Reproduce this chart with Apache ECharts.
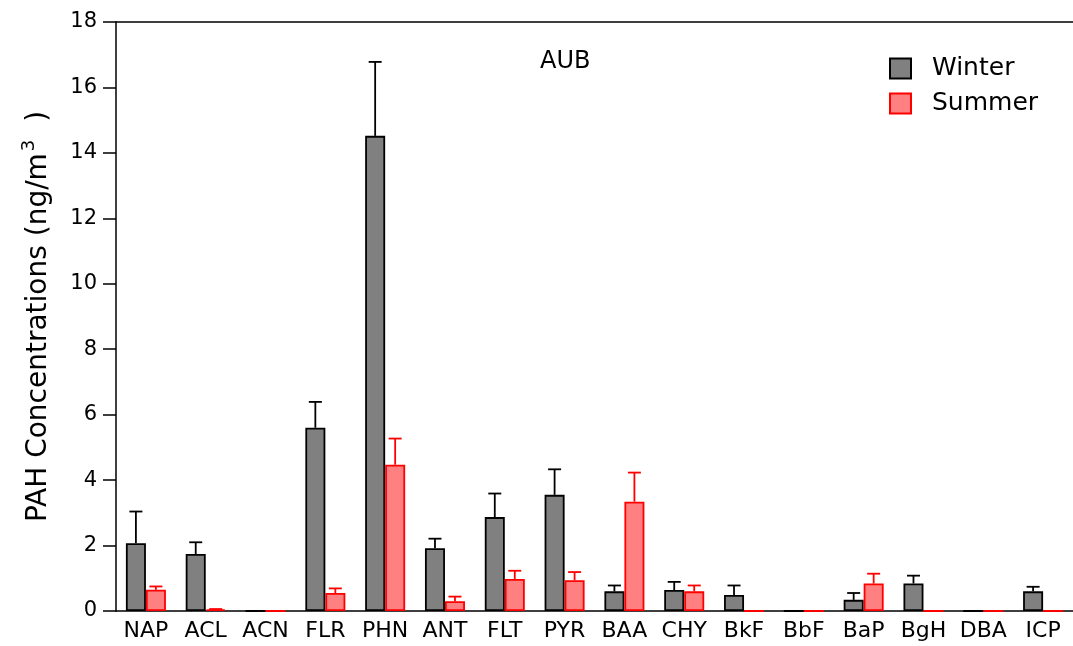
<!DOCTYPE html>
<html>
<head>
<meta charset="utf-8">
<script src="https://cdn.jsdelivr.net/npm/echarts@6/dist/echarts.min.js"></script>
<style>
html,body{margin:0;padding:0;background:#fff;}
#chart{width:1073px;height:646px;}
</style>
</head>
<body>
<div id="chart"></div>
<script>
var categories = ['NAP','ACL','ACN','FLR','PHN','ANT','FLT','PYR','BAA','CHY','BkF','BbF','BaP','BgH','DBA','ICP'];
var winter    = [2.07, 1.74, 0, 5.60, 14.52, 1.92, 2.87, 3.55, 0.60, 0.64, 0.49, 0, 0.34, 0.84, 0, 0.60];
var winterErr = [0.97, 0.36, 0, 0.79, 2.26, 0.29, 0.72, 0.78, 0.18, 0.25, 0.29, 0, 0.21, 0.24, 0, 0.14];
var summer    = [0.65, 0.05, 0, 0.55, 4.47, 0.30, 0.98, 0.94, 3.34, 0.60, 0, 0, 0.84, 0, 0, 0];
var summerErr = [0.10, 0.01, 0, 0.14, 0.80, 0.14, 0.25, 0.25, 0.89, 0.18, 0, 0, 0.30, 0, 0, 0];
var yTicks = [0, 2, 4, 6, 8, 10, 12, 14, 16, 18];

var FONT = 'DejaVu Sans';
var BAR_W = 20;

function errSeries(name, values, errs, offset, color) {
  var data = values.map(function (v, i) { return [i, v, v + errs[i]]; });
  return {
    name: name,
    type: 'custom',
    z: 5,
    silent: true,
    data: data,
    renderItem: function (params, api) {
      var idx = api.value(0), lo = api.value(1), hi = api.value(2);
      if (hi - lo <= 0) return null;
      var p0 = api.coord([idx, lo]);
      var p1 = api.coord([idx, hi]);
      var x = p0[0] + offset;
      var half = 6.5;
      return {
        type: 'group',
        children: [
          {type: 'line', shape: {x1: x, y1: p0[1], x2: x, y2: p1[1]}, style: {stroke: color, lineWidth: 1.8}},
          {type: 'line', shape: {x1: x - half, y1: p1[1], x2: x + half, y2: p1[1]}, style: {stroke: color, lineWidth: 1.8}}
        ]
      };
    }
  };
}

var chart = echarts.init(document.getElementById('chart'), null, {renderer: 'canvas'});
chart.setOption({
  animation: false,
  backgroundColor: '#ffffff',
  textStyle: {fontFamily: FONT},
  title: {
    text: 'AUB',
    left: 535, top: 45,
    textStyle: {fontFamily: FONT, fontSize: 24, fontWeight: 'normal', color: '#000'}
  },
  legend: {
    data: ['Winter', 'Summer'],
    orient: 'vertical',
    left: 884, top: 51,
    icon: 'rect',
    itemWidth: 21, itemHeight: 20,
    itemGap: 10,
    textStyle: {fontFamily: FONT, fontSize: 25, color: '#000', padding: [0, 0, 0, 16]}
  },
  grid: {left: 116, right: -8, top: 22, bottom: 35, containLabel: false},
  xAxis: [{
    type: 'category',
    data: categories,
    position: 'bottom',
    axisLine: {show: true, lineStyle: {color: '#000', width: 1.5}},
    axisTick: {show: false},
    axisLabel: {fontFamily: FONT, fontSize: 22, color: '#000', margin: 9, interval: 0}
  }, {
    type: 'category',
    data: categories,
    position: 'top',
    axisLine: {show: true, lineStyle: {color: '#000', width: 1.5}},
    axisTick: {show: false},
    axisLabel: {show: false}
  }],
  yAxis: {
    type: 'value',
    min: 0, max: 18, interval: 2,
    name: 'PAH Concentrations (ng/m{sup|3}  )',
    nameLocation: 'middle',
    nameGap: 58,
    nameRotate: 90,
    nameTextStyle: {
      fontFamily: FONT, fontSize: 28, color: '#000',
      rich: {sup: {fontFamily: FONT, fontSize: 18, color: '#000', verticalAlign: 'top', padding: [0, 0, 20, 2]}}
    },
    axisLine: {show: true, lineStyle: {color: '#000', width: 1.5}},
    axisTick: {show: true, inside: false, length: 13, lineStyle: {color: '#000', width: 1.5}},
    axisLabel: {
      fontFamily: FONT, fontSize: 21, color: '#000', margin: 19,
      formatter: function (v) { return yTicks.indexOf(v) >= 0 ? String(v) : ''; }
    },
    splitLine: {show: false}
  },
  series: [
    {
      name: 'Winter', type: 'bar', data: winter,
      barWidth: BAR_W, barGap: '0%',
      itemStyle: {color: '#808080', borderColor: '#000000', borderWidth: 1.8}
    },
    {
      name: 'Summer', type: 'bar', data: summer,
      barWidth: BAR_W, barGap: '0%',
      itemStyle: {color: '#ff8080', borderColor: '#ff0000', borderWidth: 1.8}
    },
    errSeries('WinterErr', winter, winterErr, -BAR_W / 2, '#000000'),
    errSeries('SummerErr', summer, summerErr, BAR_W / 2, '#ff0000')
  ]
});
</script>
</body>
</html>
